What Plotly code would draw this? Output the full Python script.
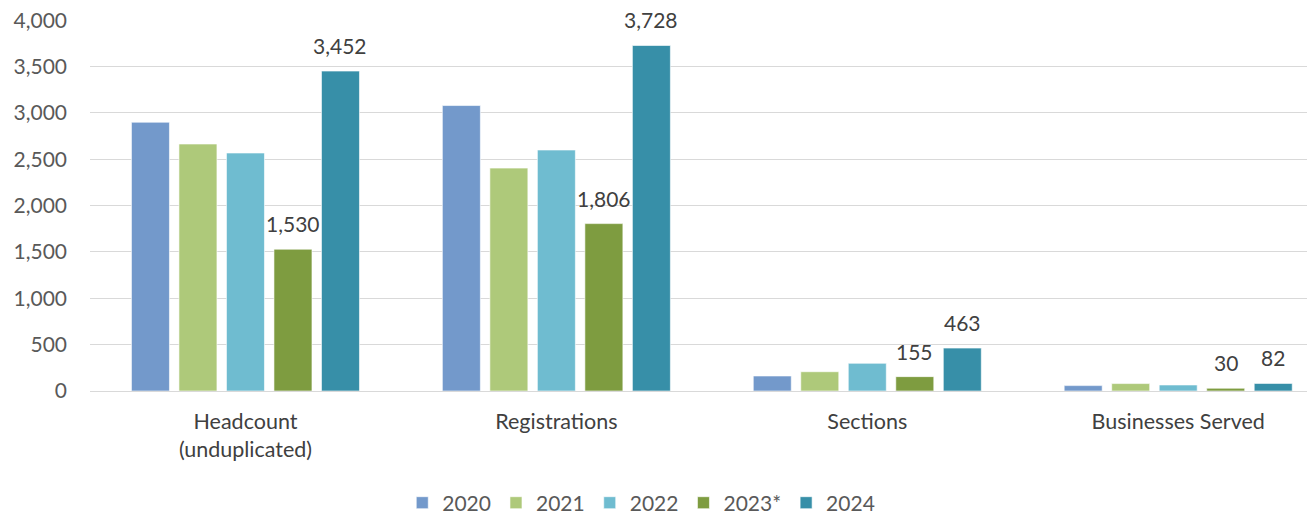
import plotly.graph_objects as go

categories = ["Headcount<br>(unduplicated)", "Registrations", "Sections", "Businesses Served"]
years = ["2020", "2021", "2022", "2023*", "2024"]
v2020 = [2900, 3080, 162, 58]
v2021 = [2665, 2405, 208, 80]
v2022 = [2568, 2600, 299, 65]
v2023 = [1530, 1806, 155, 30]
v2024 = [3452, 3728, 463, 82]
colors = ["#7399CB", "#AEC97A", "#6FBCD0", "#7E9C40", "#378FA8"]
labeled = [False, False, False, True, True]
yticks = [0, 500, 1000, 1500, 2000, 2500, 3000, 3500, 4000]

FONT = "Lato, Carlito, sans-serif"
W, H = 1307, 520
ML, MR, MT, MB = 82, 0, 12, 137
XR = [-0.5, 3.44]
BARGAP = 0.236
series = [v2020, v2021, v2022, v2023, v2024]

fig = go.Figure()
for name, vals, col in zip(years, series, colors):
    fig.add_trace(go.Bar(
        x=categories, y=vals, name=name,
        marker=dict(color=col, line=dict(color="rgba(255,255,255,0.6)", width=1)),
        cliponaxis=False,
    ))

# data labels for labelled series, offset within the group like Excel
cat_px = (W - ML - MR) / (XR[1] - XR[0])
pitch = cat_px * (1 - BARGAP) / len(series)
for i, (vals, lab) in enumerate(zip(series, labeled)):
    if not lab:
        continue
    for c, v in zip(categories, vals):
        fig.add_annotation(x=c, y=v, text=f"{v:,}", showarrow=False,
                           xanchor="center", yanchor="bottom",
                           xshift=(i - (len(series) - 1) / 2) * pitch, yshift=11,
                           font=dict(size=21, color="#404040", family=FONT))

fig.update_layout(
    width=W, height=H,
    margin=dict(l=ML, r=MR, t=MT, b=MB),
    paper_bgcolor="white", plot_bgcolor="white",
    barmode="group", bargap=BARGAP, bargroupgap=0.2,
    font=dict(family=FONT, size=21, color="#595959"),
    xaxis=dict(range=XR, showgrid=False, showline=True, linecolor="#D9D9D9", linewidth=1,
               ticks="", tickfont=dict(size=21.5, color="#404040"), automargin=False,
               ticklabelstandoff=11),
    yaxis=dict(range=[0, 4003], tickmode="array", tickvals=yticks,
               tickformat=",", showgrid=True, gridcolor="#D9D9D9",
               gridwidth=1, zeroline=False, ticks="", ticklen=0, automargin=False,
               ticklabelstandoff=22, ticklabeloverflow="allow",
               tickfont=dict(size=21, color="#595959")),
    legend=dict(orientation="h", x=0.45, xanchor="center", y=-0.302, yanchor="middle",
                font=dict(size=21, color="#595959"), itemwidth=30, traceorder="normal"),
)
fig.write_html("out.html")
